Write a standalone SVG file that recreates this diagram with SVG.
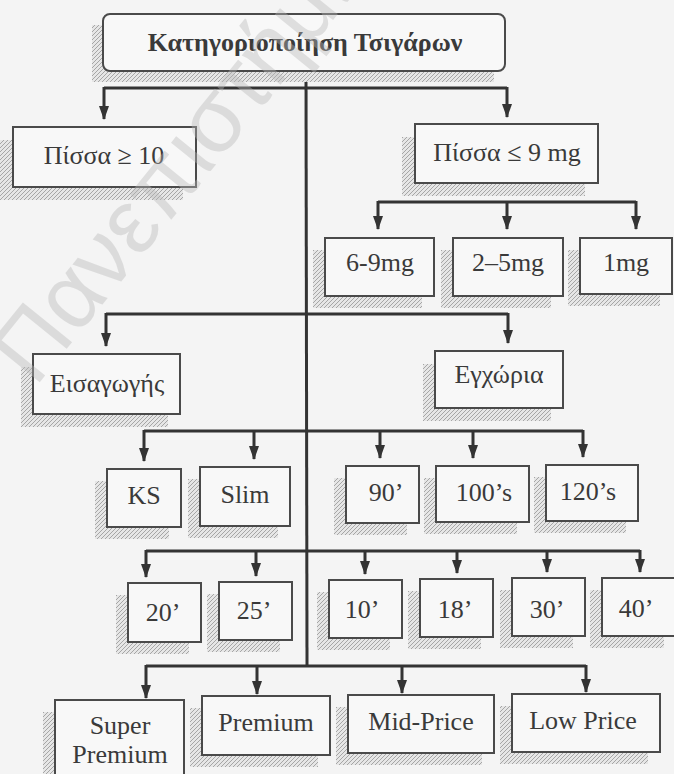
<svg xmlns="http://www.w3.org/2000/svg" width="674" height="774" viewBox="0 0 674 774">
<defs>
<pattern id="hatch" width="4" height="4" patternUnits="userSpaceOnUse">
<rect width="4" height="4" fill="#e6e6e6"/>
<path d="M-1,1 l2,-2 M0,4 l4,-4 M3,5 l2,-2" stroke="#a6a6a6" stroke-width="1"/>
</pattern>
<marker id="ah" viewBox="0 0 14 10" refX="13" refY="5" markerWidth="14" markerHeight="10" orient="auto" markerUnits="userSpaceOnUse">
<path d="M0,0 L14,5 L0,10 z" fill="#333"/>
</marker>
</defs>
<style>
.bg{fill:#f4f4f4}
.sh{fill:url(#hatch)}
.box{fill:#f8f8f8;stroke:#4a4a4a;stroke-width:2}
.t{font-family:"Liberation Serif","DejaVu Serif",serif;font-size:26px;fill:#3a3a3a;text-anchor:middle}
.tb{font-weight:bold;font-size:26px}
.c{fill:none;stroke:#333;stroke-width:3}
.a{fill:none;stroke:#333;stroke-width:3;marker-end:url(#ah)}
.wm{font-family:"Liberation Sans","DejaVu Sans",sans-serif;font-size:92px;fill:#b8b8b8;opacity:0.4}
</style>
<rect class="bg" x="0" y="0" width="674" height="774"/>

<g id="connectors">
<line class="c" x1="306" y1="71" x2="307" y2="666"/>
<line class="c" x1="104" y1="88" x2="507" y2="88"/>
<line class="a" x1="104" y1="87" x2="104" y2="119"/>
<line class="a" x1="507" y1="87" x2="507" y2="117"/>
<line class="c" x1="378" y1="202" x2="636" y2="202"/>
<line class="a" x1="378" y1="201" x2="378" y2="229"/>
<line class="a" x1="507" y1="201" x2="507" y2="229"/>
<line class="a" x1="636" y1="201" x2="636" y2="229"/>
<line class="c" x1="106" y1="314" x2="508" y2="314"/>
<line class="a" x1="106" y1="313" x2="106" y2="346"/>
<line class="a" x1="508" y1="313" x2="508" y2="343"/>
<line class="c" x1="144" y1="431" x2="583" y2="431"/>
<line class="a" x1="144" y1="430" x2="144" y2="461"/>
<line class="a" x1="254" y1="430" x2="254" y2="459"/>
<line class="a" x1="380" y1="430" x2="380" y2="458"/>
<line class="a" x1="473" y1="430" x2="473" y2="458"/>
<line class="a" x1="583" y1="430" x2="583" y2="457"/>
<line class="c" x1="146" y1="551" x2="640" y2="551"/>
<line class="a" x1="146" y1="550" x2="146" y2="577"/>
<line class="a" x1="256" y1="550" x2="256" y2="576"/>
<line class="a" x1="365" y1="550" x2="365" y2="574"/>
<line class="a" x1="457" y1="550" x2="457" y2="573"/>
<line class="a" x1="547" y1="550" x2="547" y2="572"/>
<line class="a" x1="640" y1="550" x2="640" y2="572"/>
<line class="c" x1="146" y1="666" x2="586" y2="666"/>
<line class="a" x1="146" y1="665" x2="146" y2="698"/>
<line class="a" x1="257" y1="665" x2="257" y2="694"/>
<line class="a" x1="402" y1="665" x2="402" y2="693"/>
<line class="a" x1="586" y1="665" x2="586" y2="692"/>
</g>

<g id="root">
<rect class="sh" x="92" y="25" width="402" height="57"/>
<rect class="box" x="103" y="14" width="402" height="57" rx="7"/>
<text class="t tb" x="305" y="51">Κατηγοριοποίηση Τσιγάρων</text>
</g>
<g id="tar-high">
<rect class="sh" x="0" y="140" width="183" height="60"/>
<rect class="box" x="13" y="127" width="183" height="60"/>
<text class="t" x="104" y="164">Πίσσα ≥ 10</text>
</g>
<g id="tar-low">
<rect class="sh" x="402" y="137" width="183" height="59"/>
<rect class="box" x="415" y="124" width="183" height="59"/>
<text class="t" x="507" y="161">Πίσσα ≤ 9 mg</text>
</g>
<g id="t69">
<rect class="sh" x="313" y="250" width="109" height="58"/>
<rect class="box" x="325" y="238" width="109" height="58"/>
<text class="t" x="380" y="271">6-9mg</text>
</g>
<g id="t25">
<rect class="sh" x="441" y="250" width="110" height="58"/>
<rect class="box" x="453" y="238" width="110" height="58"/>
<text class="t" x="508" y="271">2–5mg</text>
</g>
<g id="t1">
<rect class="sh" x="568" y="250" width="92" height="56"/>
<rect class="box" x="580" y="238" width="92" height="56"/>
<text class="t" x="626" y="271">1mg</text>
</g>
<g id="imported">
<rect class="sh" x="21" y="367" width="147" height="60"/>
<rect class="box" x="33" y="354" width="147" height="60"/>
<text class="t" x="107" y="392">Εισαγωγής</text>
</g>
<g id="domestic">
<rect class="sh" x="423" y="364" width="128" height="57"/>
<rect class="box" x="435" y="351" width="128" height="57"/>
<text class="t" x="499" y="383">Εγχώρια</text>
</g>
<g id="ks">
<rect class="sh" x="95" y="481" width="74" height="58"/>
<rect class="box" x="107" y="469" width="74" height="58"/>
<text class="t" x="144" y="504">KS</text>
</g>
<g id="slim">
<rect class="sh" x="188" y="479" width="90" height="59"/>
<rect class="box" x="200" y="467" width="90" height="59"/>
<text class="t" x="245" y="503">Slim</text>
</g>
<g id="l90">
<rect class="sh" x="334" y="478" width="73" height="57"/>
<rect class="box" x="346" y="466" width="73" height="57"/>
<text class="t" x="386" y="501">90’</text>
</g>
<g id="l100">
<rect class="sh" x="424" y="478" width="93" height="56"/>
<rect class="box" x="436" y="466" width="93" height="56"/>
<text class="t" x="484" y="501">100’s</text>
</g>
<g id="l120">
<rect class="sh" x="534" y="477" width="92" height="56"/>
<rect class="box" x="546" y="465" width="92" height="56"/>
<text class="t" x="588" y="500">120’s</text>
</g>
<g id="p20">
<rect class="sh" x="116" y="595" width="73" height="59"/>
<rect class="box" x="128" y="583" width="73" height="59"/>
<text class="t" x="163" y="621">20’</text>
</g>
<g id="p25">
<rect class="sh" x="207" y="594" width="73" height="58"/>
<rect class="box" x="219" y="582" width="73" height="58"/>
<text class="t" x="254" y="619">25’</text>
</g>
<g id="p10">
<rect class="sh" x="317" y="592" width="73" height="58"/>
<rect class="box" x="329" y="580" width="73" height="58"/>
<text class="t" x="362" y="618">10’</text>
</g>
<g id="p18">
<rect class="sh" x="408" y="591" width="73" height="58"/>
<rect class="box" x="420" y="579" width="73" height="58"/>
<text class="t" x="455" y="618">18’</text>
</g>
<g id="p30">
<rect class="sh" x="500" y="590" width="73" height="58"/>
<rect class="box" x="512" y="578" width="73" height="58"/>
<text class="t" x="547" y="618">30’</text>
</g>
<g id="p40">
<rect class="sh" x="590" y="590" width="74" height="58"/>
<rect class="box" x="602" y="578" width="74" height="58"/>
<text class="t" x="636" y="617">40’</text>
</g>
<g id="super-premium">
<rect class="sh" x="43" y="712" width="129" height="90"/>
<rect class="box" x="55" y="700" width="129" height="90"/>
<text class="t" x="120" y="734">Super</text>
<text class="t" x="120" y="763">Premium</text>
</g>
<g id="premium">
<rect class="sh" x="190" y="708" width="128" height="59"/>
<rect class="box" x="202" y="696" width="128" height="59"/>
<text class="t" x="266" y="731">Premium</text>
</g>
<g id="mid-price">
<rect class="sh" x="336" y="707" width="146" height="58"/>
<rect class="box" x="348" y="695" width="146" height="58"/>
<text class="t" x="421" y="730">Mid-Price</text>
</g>
<g id="low-price">
<rect class="sh" x="500" y="706" width="148" height="58"/>
<rect class="box" x="512" y="694" width="148" height="58"/>
<text class="t" x="583" y="729">Low Price</text>
</g>

<text class="wm" transform="translate(35,388) rotate(-51)">Πανεπιστήμιο</text>
</svg>
